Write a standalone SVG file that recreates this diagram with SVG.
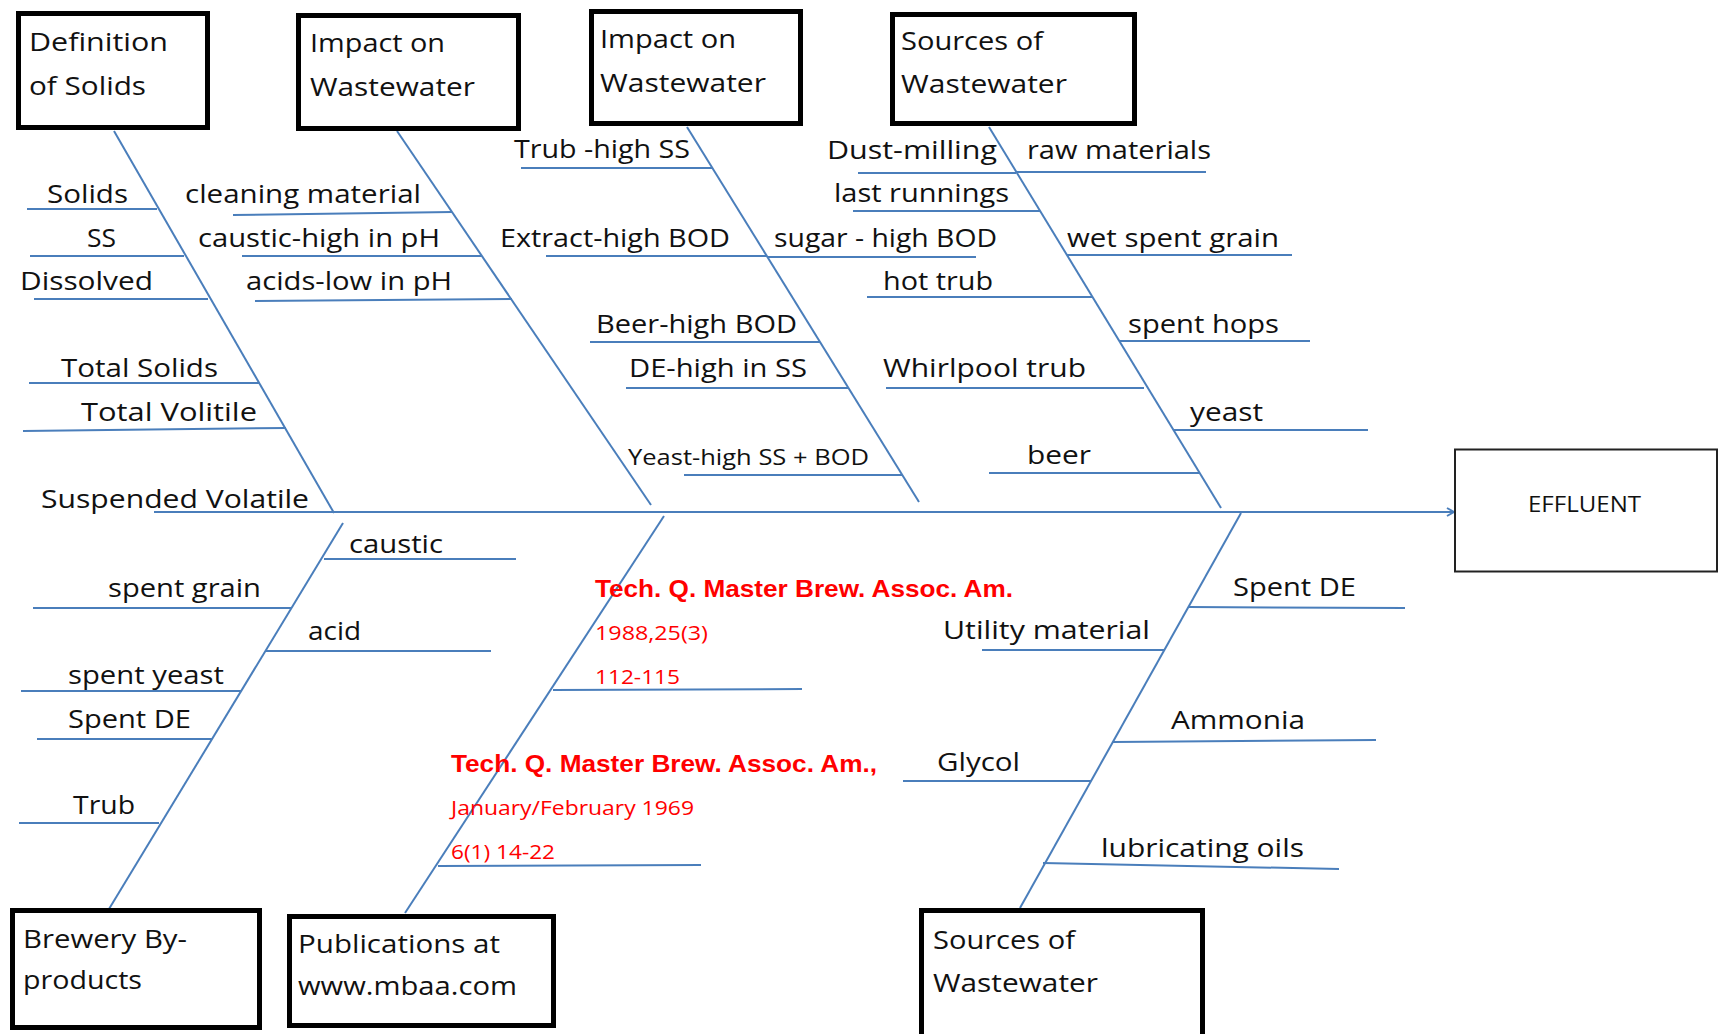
<svg xmlns="http://www.w3.org/2000/svg" width="1719" height="1034" viewBox="0 0 1719 1034">
<style>
.bx{fill:#fff;stroke:#000;stroke-width:5}
.bt{font-family:"Open Sans","Liberation Sans",sans-serif;font-size:26px;fill:#111}
.lb{font-family:"Open Sans","Liberation Sans",sans-serif;font-size:26px;fill:#111}
.sm{font-size:21px}
.rb{font-family:"Liberation Sans",Arial,sans-serif;font-weight:bold;font-size:24px;fill:#ff0000}
.rs{font-family:"Open Sans","Liberation Sans",sans-serif;font-size:20px;fill:#ff0000}
.ln line{stroke:#4a7ebb;stroke-width:2;fill:none}
</style>
<defs>
<marker id="arr" viewBox="0 0 10 10" refX="9" refY="5" markerWidth="10" markerHeight="10" markerUnits="userSpaceOnUse" orient="auto">
<path d="M2,1 L9,5 L2,9" fill="none" stroke="#4a7ebb" stroke-width="2"/>
</marker>
</defs>
<rect width="1719" height="1034" fill="#fff"/>

<g id="connectors" class="ln">
<line id="main" x1="154" y1="512" x2="1454" y2="512" marker-end="url(#arr)"/>
<line x1="114" y1="131" x2="334" y2="513"/>
<line x1="397" y1="131" x2="651" y2="505"/>
<line x1="687" y1="127" x2="919" y2="502"/>
<line x1="989" y1="127" x2="1221" y2="508"/>
<line x1="1241" y1="513" x2="1020" y2="908"/>
<line x1="343" y1="523" x2="109" y2="909"/>
<line x1="664" y1="516" x2="405" y2="913"/>
<line x1="27" y1="209" x2="157" y2="209"/>
<line x1="30" y1="256" x2="184" y2="256"/>
<line x1="34" y1="299" x2="208" y2="299"/>
<line x1="29" y1="383" x2="259" y2="383"/>
<line x1="23" y1="431" x2="286" y2="428"/>
<line x1="233" y1="215" x2="452" y2="212"/>
<line x1="242" y1="256" x2="482" y2="256"/>
<line x1="255" y1="301" x2="512" y2="299"/>
<line x1="521" y1="168" x2="712" y2="168"/>
<line x1="546" y1="256" x2="767" y2="256"/>
<line x1="767" y1="257" x2="976" y2="257"/>
<line x1="590" y1="342" x2="820" y2="342"/>
<line x1="626" y1="388" x2="849" y2="388"/>
<line x1="684" y1="475" x2="902" y2="475"/>
<line x1="858" y1="173" x2="1016" y2="173"/>
<line x1="1016" y1="172" x2="1206" y2="172"/>
<line x1="853" y1="211" x2="1040" y2="211"/>
<line x1="1067" y1="255" x2="1292" y2="255"/>
<line x1="867" y1="297" x2="1092" y2="297"/>
<line x1="1119" y1="341" x2="1310" y2="341"/>
<line x1="886" y1="388" x2="1144" y2="388"/>
<line x1="1173" y1="430" x2="1368" y2="430"/>
<line x1="989" y1="473" x2="1200" y2="473"/>
<line x1="324" y1="559" x2="516" y2="559"/>
<line x1="33" y1="608" x2="291" y2="608"/>
<line x1="265" y1="651" x2="491" y2="651"/>
<line x1="21" y1="691" x2="241" y2="691"/>
<line x1="37" y1="739" x2="212" y2="739"/>
<line x1="19" y1="823" x2="159" y2="823"/>
<line x1="553" y1="690" x2="802" y2="689"/>
<line x1="438" y1="866" x2="701" y2="865"/>
<line x1="1188" y1="607" x2="1405" y2="608"/>
<line x1="982" y1="650" x2="1164" y2="650"/>
<line x1="1113" y1="742" x2="1376" y2="740"/>
<line x1="903" y1="781" x2="1091" y2="781"/>
<line x1="1043" y1="863" x2="1339" y2="869"/>
</g>

<g id="box-definition">
<rect class="bx" x="18.5" y="13.5" width="189" height="114"/>
<text class="bt" x="29" y="51" textLength="139" lengthAdjust="spacingAndGlyphs">Definition</text>
<text class="bt" x="29" y="95" textLength="117" lengthAdjust="spacingAndGlyphs">of Solids</text>
</g>
<g id="box-impact-1">
<rect class="bx" x="298.5" y="15.5" width="220" height="113"/>
<text class="bt" x="310" y="52" textLength="135" lengthAdjust="spacingAndGlyphs">Impact on</text>
<text class="bt" x="310" y="96" textLength="165" lengthAdjust="spacingAndGlyphs">Wastewater</text>
</g>
<g id="box-impact-2">
<rect class="bx" x="591.5" y="11.5" width="209" height="112"/>
<text class="bt" x="600" y="48" textLength="136" lengthAdjust="spacingAndGlyphs">Impact on</text>
<text class="bt" x="600" y="92" textLength="166" lengthAdjust="spacingAndGlyphs">Wastewater</text>
</g>
<g id="box-sources-top">
<rect class="bx" x="892.5" y="14.5" width="242" height="109"/>
<text class="bt" x="901" y="50" textLength="142" lengthAdjust="spacingAndGlyphs">Sources of</text>
<text class="bt" x="901" y="93" textLength="166" lengthAdjust="spacingAndGlyphs">Wastewater</text>
</g>
<g id="box-byproducts">
<rect class="bx" x="12.5" y="910.5" width="247" height="117"/>
<text class="bt" x="23" y="948" textLength="164" lengthAdjust="spacingAndGlyphs">Brewery By-</text>
<text class="bt" x="23" y="989" textLength="119" lengthAdjust="spacingAndGlyphs">products</text>
</g>
<g id="box-publications">
<rect class="bx" x="289.5" y="916.5" width="264" height="109"/>
<text class="bt" x="298" y="953" textLength="202" lengthAdjust="spacingAndGlyphs">Publications at</text>
<text class="bt" x="298" y="995" textLength="219" lengthAdjust="spacingAndGlyphs">www.mbaa.com</text>
</g>
<g id="box-sources-bottom">
<rect class="bx" x="921.5" y="910.5" width="281" height="140"/>
<text class="bt" x="933" y="949" textLength="142" lengthAdjust="spacingAndGlyphs">Sources of</text>
<text class="bt" x="933" y="992" textLength="165" lengthAdjust="spacingAndGlyphs">Wastewater</text>
</g>
<g id="box-effluent">
<rect x="1455" y="449.5" width="262" height="122" fill="#fff" stroke="#222" stroke-width="2"/>
<text class="bt" x="1528" y="512" style="font-size:22px" textLength="113" lengthAdjust="spacingAndGlyphs">EFFLUENT</text>
</g>

<g id="labels" class="lb">
<text class="lb" x="47" y="203" textLength="81" lengthAdjust="spacingAndGlyphs">Solids</text>
<text class="lb" x="87" y="247" textLength="29" lengthAdjust="spacingAndGlyphs">SS</text>
<text class="lb" x="20" y="290" textLength="133" lengthAdjust="spacingAndGlyphs">Dissolved</text>
<text class="lb" x="61" y="377" textLength="157" lengthAdjust="spacingAndGlyphs">Total Solids</text>
<text class="lb" x="81" y="421" textLength="176" lengthAdjust="spacingAndGlyphs">Total Volitile</text>
<text class="lb" x="41" y="508" textLength="268" lengthAdjust="spacingAndGlyphs">Suspended Volatile</text>
<text class="lb" x="185" y="203" textLength="236" lengthAdjust="spacingAndGlyphs">cleaning material</text>
<text class="lb" x="198" y="247" textLength="242" lengthAdjust="spacingAndGlyphs">caustic-high in pH</text>
<text class="lb" x="246" y="290" textLength="206" lengthAdjust="spacingAndGlyphs">acids-low in pH</text>
<text class="lb" x="514" y="158" textLength="176" lengthAdjust="spacingAndGlyphs">Trub -high SS</text>
<text class="lb" x="500" y="247" textLength="230" lengthAdjust="spacingAndGlyphs">Extract-high BOD</text>
<text class="lb" x="774" y="247" textLength="223" lengthAdjust="spacingAndGlyphs">sugar - high BOD</text>
<text class="lb" x="596" y="333" textLength="201" lengthAdjust="spacingAndGlyphs">Beer-high BOD</text>
<text class="lb" x="629" y="377" textLength="178" lengthAdjust="spacingAndGlyphs">DE-high in SS</text>
<text class="lb sm" x="628" y="465" textLength="241" lengthAdjust="spacingAndGlyphs">Yeast-high SS + BOD</text>
<text class="lb" x="827" y="159" textLength="170" lengthAdjust="spacingAndGlyphs">Dust-milling</text>
<text class="lb" x="834" y="202" textLength="175" lengthAdjust="spacingAndGlyphs">last runnings</text>
<text class="lb" x="883" y="290" textLength="110" lengthAdjust="spacingAndGlyphs">hot trub</text>
<text class="lb" x="883" y="377" textLength="203" lengthAdjust="spacingAndGlyphs">Whirlpool trub</text>
<text class="lb" x="1027" y="159" textLength="184" lengthAdjust="spacingAndGlyphs">raw materials</text>
<text class="lb" x="1067" y="247" textLength="212" lengthAdjust="spacingAndGlyphs">wet spent grain</text>
<text class="lb" x="1128" y="333" textLength="151" lengthAdjust="spacingAndGlyphs">spent hops</text>
<text class="lb" x="1190" y="421" textLength="73" lengthAdjust="spacingAndGlyphs">yeast</text>
<text class="lb" x="1027" y="464" textLength="64" lengthAdjust="spacingAndGlyphs">beer</text>
<text class="lb" x="349" y="553" textLength="94" lengthAdjust="spacingAndGlyphs">caustic</text>
<text class="lb" x="108" y="597" textLength="153" lengthAdjust="spacingAndGlyphs">spent grain</text>
<text class="lb" x="308" y="640" textLength="53" lengthAdjust="spacingAndGlyphs">acid</text>
<text class="lb" x="68" y="684" textLength="156" lengthAdjust="spacingAndGlyphs">spent yeast</text>
<text class="lb" x="68" y="728" textLength="123" lengthAdjust="spacingAndGlyphs">Spent DE</text>
<text class="lb" x="73" y="814" textLength="62" lengthAdjust="spacingAndGlyphs">Trub</text>
<text class="lb" x="1233" y="596" textLength="123" lengthAdjust="spacingAndGlyphs">Spent DE</text>
<text class="lb" x="943" y="639" textLength="207" lengthAdjust="spacingAndGlyphs">Utility material</text>
<text class="lb" x="1171" y="729" textLength="134" lengthAdjust="spacingAndGlyphs">Ammonia</text>
<text class="lb" x="937" y="771" textLength="83" lengthAdjust="spacingAndGlyphs">Glycol</text>
<text class="lb" x="1101" y="857" textLength="203" lengthAdjust="spacingAndGlyphs">lubricating oils</text>
</g>

<g id="references">
<text class="rb" x="595" y="597" textLength="418" lengthAdjust="spacingAndGlyphs">Tech. Q. Master Brew. Assoc. Am.</text>
<text class="rs" x="595" y="640" textLength="113" lengthAdjust="spacingAndGlyphs">1988,25(3)</text>
<text class="rs" x="595" y="684" textLength="85" lengthAdjust="spacingAndGlyphs">112-115</text>
<text class="rb" x="451" y="772" textLength="426" lengthAdjust="spacingAndGlyphs">Tech. Q. Master Brew. Assoc. Am.,</text>
<text class="rs" x="451" y="815" textLength="243" lengthAdjust="spacingAndGlyphs">January/February 1969</text>
<text class="rs" x="451" y="859" textLength="104" lengthAdjust="spacingAndGlyphs">6(1) 14-22</text>
</g>
</svg>
